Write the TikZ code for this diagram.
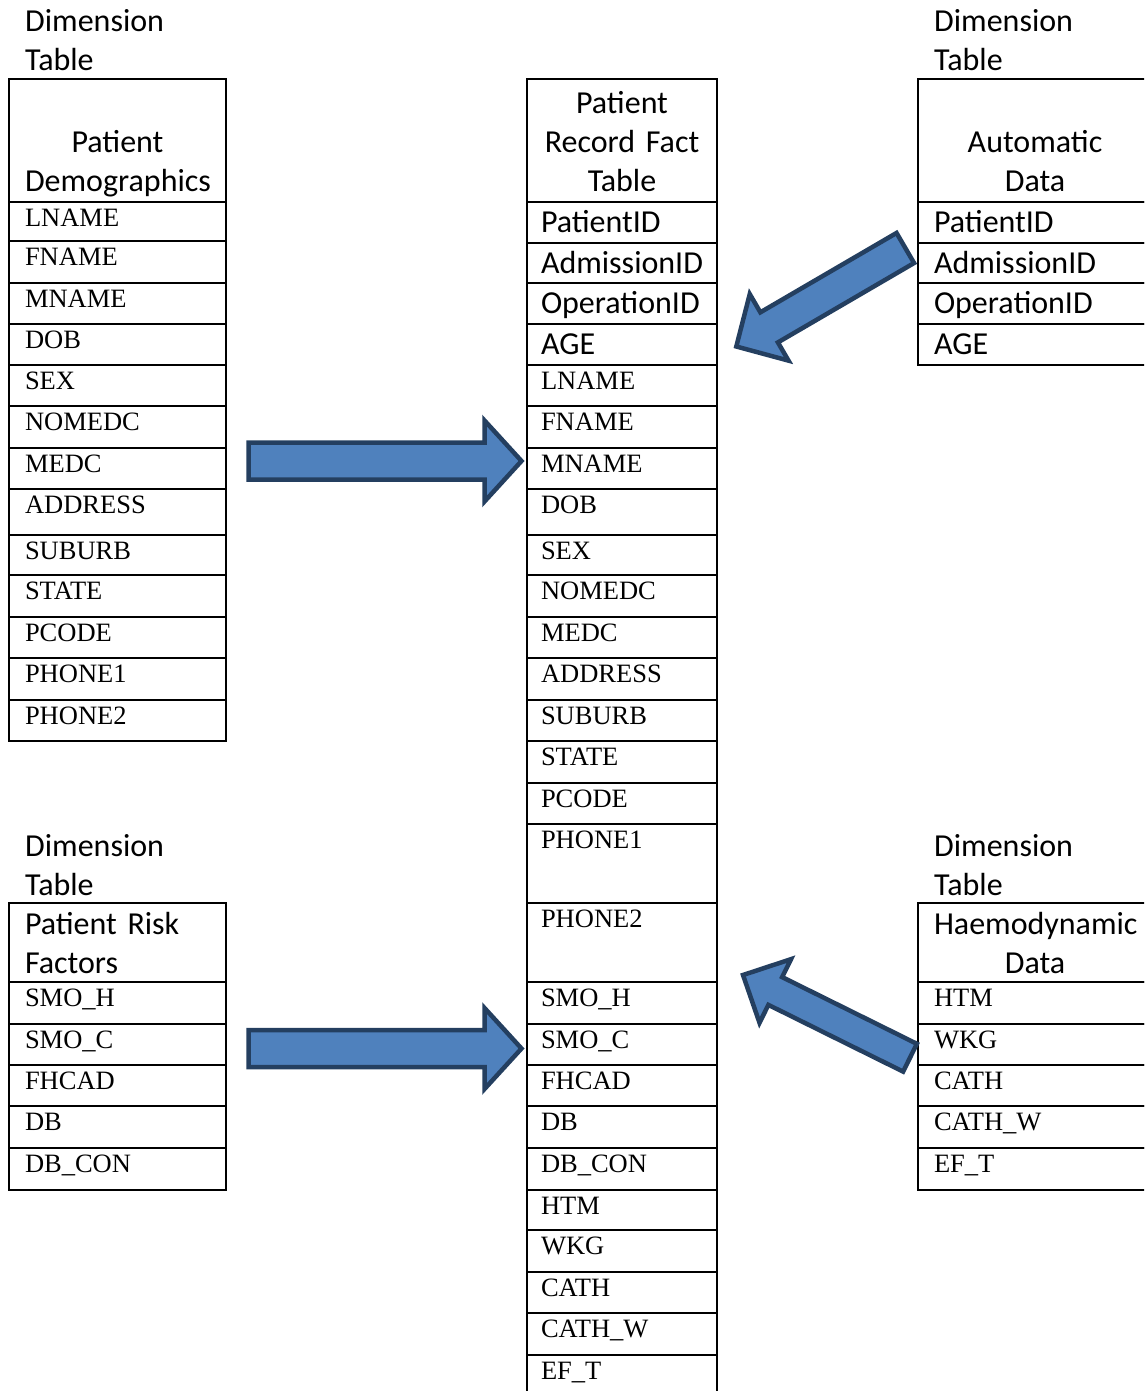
\documentclass[tikz,border=0pt]{standalone}
\usepackage{fontspec}
\usepackage{xcolor}
\usetikzlibrary{calc}
\newfontfamily\calibri{Carlito}
\newfontfamily\timesrow{Liberation Serif}
\definecolor{arrowblue}{HTML}{4F81BD}
\definecolor{arrowline}{HTML}{243F60}
\hyphenpenalty=10000
\hbadness=10000
\hfuzz=20pt
\tikzset{
  cell/.style={
    draw, line width=1.2pt, anchor=north west,
    inner xsep=16pt, inner ysep=0pt, outer sep=0pt,
    text height=24pt, align=left
  },
  timescell/.style={cell, font=\timesrow\fontsize{26.5}{30}\selectfont},
  calcell/.style={cell, text height=30pt, font=\calibri\fontsize{32}{39}\selectfont},
  headcell/.style={cell, align=center, font=\calibri\fontsize{32}{39}\selectfont},
  dimlabel/.style={
    anchor=base west, inner sep=0pt, text width=200pt, align=left,
    font=\calibri\fontsize{32}{39}\selectfont
  },
  blockarrow/.style={fill=arrowblue, draw=arrowline, line width=4.5pt, line join=miter},
}
% tail, tip, half shaft, half head, head length
\newcommand{\blockarrow}[5]{%
  \coordinate (#1-neck) at ($(#2)!#5!(#1)$);
  \draw[blockarrow] ($(#1)!#3!90:(#2)$) -- ($(#1-neck)!#3!90:(#2)$)
    -- ($(#1-neck)!#4!90:(#2)$) -- (#2) -- ($(#1-neck)!#4!-90:(#2)$)
    -- ($(#1-neck)!#3!-90:(#2)$) -- ($(#1)!#3!-90:(#2)$) -- cycle;
}

\begin{document}
\begin{tikzpicture}[x=1pt, y=-1pt]
  \useasboundingbox (0,0) rectangle (1144,1391);
  \clip (0,0) rectangle (1144,1391);

  % dimension labels
  \node[dimlabel] (lblDemo) at (25,32) {Dimension\\Table};
  \node[dimlabel] (lblAuto) at (934,32) {Dimension\\Table};
  \node[dimlabel] (lblRisk) at (25,856) {Dimension\\Table};
  \node[dimlabel] (lblHaemo) at (934,856) {Dimension\\Table};

  % table headers
  \node[headcell, text width=185pt, text height=74pt, text depth=49pt] (demo) at (9,79)
    {Patient\\Demographics};
  \node[headcell, inner xsep=14pt, text width=162pt, text height=35pt, text depth=88pt] (fact) at (527,79)
    {Patient\\Record Fact\\Table};
  \node[headcell, text width=202pt, text height=74pt, text depth=49pt] (auto) at (918,79)
    {Automatic\\Data};
  \node[headcell, align=left, text width=185pt, text height=31pt, text depth=48pt] (risk) at (9,903)
    {Patient Risk\\Factors};
  \node[headcell, text width=202pt, text height=31pt, text depth=48pt] (haemo) at (918,903)
    {Haemodynamic\\Data};

  % patient demographics
  \foreach \field/\top/\bot [count=\i] in {LNAME/202/241, FNAME/241/283, MNAME/283/324,
      DOB/324/365, SEX/365/406, NOMEDC/406/448, MEDC/448/489, ADDRESS/489/535,
      SUBURB/535/575, STATE/575/617, PCODE/617/658, PHONE1/658/700, PHONE2/700/741} {
    \pgfmathsetmacro\dep{\bot-\top-24}
    \node[timescell, text width=185pt, text depth=\dep pt] (demo-\i) at (9,\top) {\field};
  }

  % fact table
  \foreach \field/\top/\bot [count=\i] in {PatientID/202/243, AdmissionID/243/283,
      OperationID/283/324, AGE/324/365} {
    \pgfmathsetmacro\dep{\bot-\top-30}
    \node[calcell, inner xsep=14pt, text width=162pt, text depth=\dep pt] (fact-\i) at (527,\top) {\field};
  }
  \foreach \field/\top/\bot [count=\i from 5] in {LNAME/365/406, FNAME/406/448, MNAME/448/489,
      DOB/489/535, SEX/535/575, NOMEDC/575/617, MEDC/617/658, ADDRESS/658/700,
      SUBURB/700/741, STATE/741/783, PCODE/783/824, PHONE1/824/903, PHONE2/903/982,
      SMO\_H/982/1024, SMO\_C/1024/1065, FHCAD/1065/1106, DB/1106/1148, DB\_CON/1148/1190,
      HTM/1190/1230, WKG/1230/1272, CATH/1272/1313, CATH\_W/1313/1355, EF\_T/1355/1396} {
    \pgfmathsetmacro\dep{\bot-\top-24}
    \node[timescell, inner xsep=14pt, text width=162pt, text depth=\dep pt] (fact-\i) at (527,\top) {\field};
  }

  % automatic data
  \foreach \field/\top/\bot [count=\i] in {PatientID/202/243, AdmissionID/243/283,
      OperationID/283/324, AGE/324/365} {
    \pgfmathsetmacro\dep{\bot-\top-30}
    \node[calcell, text width=202pt, text depth=\dep pt] (auto-\i) at (918,\top) {\field};
  }

  % patient risk factors
  \foreach \field/\top/\bot [count=\i] in {SMO\_H/982/1024, SMO\_C/1024/1065,
      FHCAD/1065/1106, DB/1106/1148, DB\_CON/1148/1190} {
    \pgfmathsetmacro\dep{\bot-\top-24}
    \node[timescell, text width=185pt, text depth=\dep pt] (risk-\i) at (9,\top) {\field};
  }

  % haemodynamic data
  \foreach \field/\top/\bot [count=\i] in {HTM/982/1024, WKG/1024/1065,
      CATH/1065/1106, CATH\_W/1106/1148, EF\_T/1148/1190} {
    \pgfmathsetmacro\dep{\bot-\top-24}
    \node[timescell, text width=202pt, text depth=\dep pt] (haemo-\i) at (918,\top) {\field};
  }

  % block arrows into the fact table
  \coordinate (demoTail) at (248.5,461);
  \coordinate (demoTip) at (521.5,461);
  \coordinate (riskTail) at (248.5,1048.5);
  \coordinate (riskTip) at (521.5,1048.5);
  \coordinate (autoTail) at (905.3,248);
  \coordinate (autoTip) at (736.3,346.5);
  \coordinate (haemoTail) at (910,1057.7);
  \coordinate (haemoTip) at (743,975);
  \blockarrow{demoTail}{demoTip}{18.5pt}{40.5pt}{37pt}
  \blockarrow{riskTail}{riskTip}{18.5pt}{40.5pt}{37pt}
  \blockarrow{autoTail}{autoTip}{17.4pt}{38.5pt}{38pt}
  \blockarrow{haemoTail}{haemoTip}{15.5pt}{35.5pt}{36pt}
\end{tikzpicture}
\end{document}
